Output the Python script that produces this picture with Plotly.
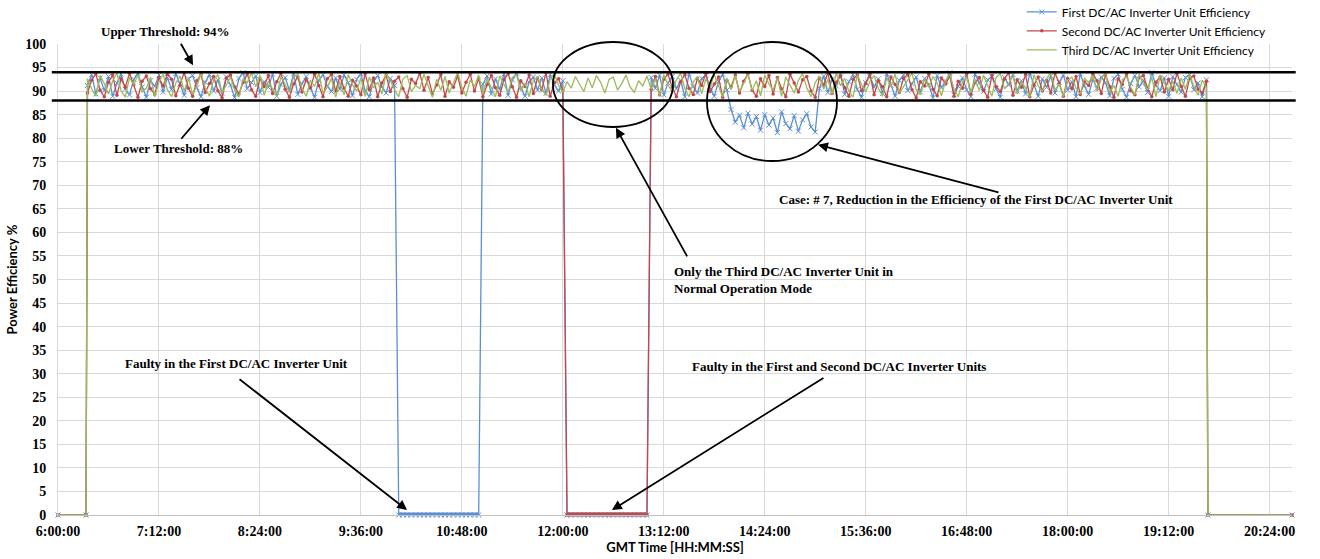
import plotly.graph_objects as go

# ---------------------------------------------------------------------------
# Sampling grid: one reading every 3 minutes from 6:21 to 19:39 (GMT).
# Each row below covers one hour (20 readings), the last row is partial.
# ---------------------------------------------------------------------------
SAMPLE_START = "6:21"
SAMPLE_STEP_MIN = 3

# Off-line periods (no irradiance) where all three inverters read 0 %
OFF_MORNING = ["6:00", "6:20"]
OFF_EVENING = ["19:40", "20:40"]

UPPER_THRESHOLD = 94
LOWER_THRESHOLD = 88

X_TICK_START = "6:00"
X_TICK_STEP_MIN = 72
X_TICK_COUNT = 13
Y_TICKS = list(range(0, 101, 5))

first_unit = [
    91.2, 93.5, 89.4, 92.8, 90.1, 93.1, 88.9, 91.7, 93.6, 90.4, 89.2, 92.5, 93.8, 90.9, 88.7, 92.2, 91.0, 93.4, 89.8, 92.9,
    90.3, 93.7, 91.5, 89.1, 92.6, 93.3, 90.7, 88.8, 91.9, 93.5, 90.0, 92.4, 89.5, 93.0, 91.3, 88.6, 92.7, 93.9, 90.5, 91.8,
    93.2, 89.7, 92.0, 90.8, 93.6, 88.9, 91.4, 92.9, 90.2, 93.8, 89.3, 91.6, 93.1, 90.6, 88.7, 92.3, 93.5, 91.1, 89.9, 92.8,
    90.4, 93.4, 91.8, 89.0, 92.5, 93.7, 90.1, 88.8, 92.1, 93.3, 90.9, 89.6, 92.7, 91.2, 0, 0, 0, 0, 0, 0,
    0, 0, 0, 0, 0, 0, 0, 0, 0, 0, 0, 0, 0, 0, 91.5, 93.2, 89.4, 92.6, 90.3, 93.6,
    89.1, 92.4, 93.8, 90.7, 88.9, 91.9, 93.0, 90.2, 92.8, 89.5, 93.5, 91.3, 90.0, 92.2, 0, 0, 0, 0, 0, 0,
    0, 0, 0, 0, 0, 0, 0, 0, 0, 0, 0, 0, 0, 0, 92.9, 90.6, 93.4, 89.2, 91.7, 93.1,
    90.5, 92.3, 88.8, 93.7, 91.0, 89.6, 92.7, 93.3, 90.8, 88.9, 92.0, 93.6, 90.2, 86.1, 83.4, 84.9, 82.2, 85.3, 83.0, 84.6,
    81.7, 85.0, 82.8, 84.3, 81.2, 85.6, 83.1, 82.0, 84.8, 81.5, 83.9, 85.2, 82.4, 81.3, 90.6, 93.2, 89.7, 92.5, 91.1, 93.8,
    89.3, 92.0, 93.5, 90.4, 88.7, 91.8, 93.1, 90.9, 92.6, 89.5, 93.7, 91.2, 88.9, 92.3, 93.4, 90.1, 91.6, 93.0, 89.8, 92.7,
    91.4, 88.6, 93.3, 90.7, 92.1, 93.9, 89.2, 91.0, 92.8, 90.3, 88.8, 93.6, 91.7, 89.9, 92.4, 93.1, 90.5, 88.7, 92.9, 91.3,
    93.5, 90.0, 92.2, 89.4, 93.8, 91.5, 88.9, 92.6, 90.8, 93.2, 89.6, 91.9, 93.4, 90.2, 92.0, 88.8, 93.7, 91.1, 89.3, 92.5,
    90.6, 93.0, 91.8, 89.0, 92.7, 93.6, 90.4, 88.7, 91.6, 93.3, 90.9, 92.3, 89.7, 93.9, 91.2, 90.1, 92.8, 88.9, 93.1, 91.4,
    89.8, 92.9, 93.5, 90.3, 91.7, 88.8, 92.4,
]

second_unit = [
    89.6, 92.3, 93.7, 90.2, 88.8, 91.9, 93.4, 89.1, 92.6, 90.8, 93.8, 91.4, 88.7, 92.1, 93.2, 90.5, 89.3, 92.9, 91.1, 93.6,
    92.5, 89.0, 91.3, 93.9, 90.6, 88.9, 92.2, 93.5, 89.7, 91.6, 93.1, 90.1, 88.6, 92.8, 93.4, 90.9, 89.4, 91.8, 93.7, 90.3,
    88.9, 92.7, 91.0, 93.3, 89.5, 92.0, 93.8, 90.4, 88.7, 91.5, 93.0, 89.8, 92.4, 90.7, 93.6, 91.2, 88.8, 92.6, 93.5, 90.0,
    93.1, 90.6, 88.9, 92.3, 91.1, 89.2, 93.7, 90.3, 92.8, 88.8, 91.7, 93.4, 89.9, 92.1, 93.0, 90.5, 88.7, 92.5, 91.6, 93.8,
    90.2, 92.9, 89.4, 91.3, 93.5, 88.9, 92.0, 90.8, 93.2, 89.6, 91.9, 93.6, 90.0, 92.7, 88.8, 91.4, 93.3, 90.7, 89.1, 92.4,
    93.7, 90.9, 88.7, 92.2, 91.0, 93.4, 89.5, 92.8, 90.3, 93.9, 88.9, 91.8, 92.6, 90.1, 0, 0, 0, 0, 0, 0,
    0, 0, 0, 0, 0, 0, 0, 0, 0, 0, 0, 0, 0, 0, 90.4, 93.1, 89.2, 92.5, 93.6, 90.8,
    88.8, 92.0, 93.5, 90.6, 89.3, 92.7, 91.2, 93.8, 89.9, 91.5, 93.0, 88.7, 92.3, 90.9, 93.4, 89.6, 92.1, 93.7, 90.2, 88.9,
    92.6, 91.0, 93.3, 89.4, 92.9, 90.5, 88.8, 93.6, 91.7, 89.8, 92.4, 93.1, 90.0, 88.7, 92.8, 91.3, 93.9, 89.5, 91.9, 93.2,
    90.7, 88.9, 92.5, 93.4, 90.1, 91.6, 93.8, 89.2, 92.2, 90.9, 88.8, 93.0, 91.4, 89.7, 92.7, 93.5, 90.3, 88.6, 92.0, 91.1,
    93.6, 90.4, 89.0, 92.8, 91.5, 93.2, 88.9, 92.1, 90.6, 93.7, 89.4, 91.8, 92.9, 90.2, 88.7, 93.3, 91.0, 89.9, 92.6, 93.9,
    89.1, 92.4, 90.8, 93.5, 88.8, 91.3, 93.0, 90.0, 92.3, 89.6, 93.8, 91.7, 88.9, 92.7, 90.5, 93.1, 89.3, 92.0, 91.2, 93.6,
    92.2, 89.5, 93.4, 90.9, 88.7, 92.6, 91.4, 93.7, 90.1, 89.2, 92.9, 93.3, 90.6, 88.8, 91.9, 93.0, 89.8, 92.5, 90.3, 93.8,
    91.0, 88.9, 92.7, 93.2, 90.4, 89.6, 92.1,
]

third_unit = [
    92.7, 90.5, 88.9, 93.3, 91.6, 89.4, 92.2, 93.8, 90.1, 88.7, 92.9, 91.3, 93.5, 89.8, 90.6, 93.0, 88.8, 91.9, 93.6, 90.3,
    88.8, 91.7, 93.2, 90.0, 92.8, 89.3, 91.1, 93.7, 90.7, 88.9, 92.4, 93.5, 89.6, 91.4, 93.0, 90.2, 88.7, 92.6, 91.8, 93.9,
    90.9, 93.4, 89.1, 92.1, 90.4, 88.8, 93.1, 91.5, 89.7, 92.9, 93.6, 90.6, 88.9, 92.3, 91.0, 93.8, 89.5, 90.8, 92.7, 88.7,
    92.0, 89.2, 93.5, 91.3, 90.0, 92.8, 88.9, 93.0, 90.7, 91.9, 89.4, 93.7, 92.2, 90.3, 88.8, 92.6, 93.3, 89.9, 91.2, 90.5,
    93.6, 91.1, 88.7, 92.5, 90.2, 93.1, 89.6, 91.8, 93.9, 90.8, 88.9, 92.4, 91.0, 93.4, 89.3, 92.7, 90.6, 88.8, 93.2, 91.5,
    89.7, 92.9, 93.5, 90.1, 91.7, 88.8, 92.3, 93.0, 90.4, 89.1, 92.6, 93.7, 91.2, 89.8, 92.0, 90.6, 93.1, 91.4, 89.9, 92.8,
    90.7, 93.3, 91.8, 89.6, 92.5, 93.0, 90.2, 91.6, 93.4, 90.9, 89.7, 92.2, 91.1, 93.2, 90.4, 92.7, 88.9, 93.5, 91.3, 89.8,
    92.4, 93.8, 90.5, 88.8, 91.9, 93.1, 89.4, 92.6, 90.8, 93.5, 91.0, 88.7, 92.8, 90.3, 93.3, 89.9, 91.6, 93.6, 90.1, 92.2,
    89.0, 93.4, 91.5, 90.2, 92.9, 88.9, 93.0, 91.2, 89.6, 92.3, 93.7, 90.7, 88.8, 91.8, 93.2, 90.4, 92.5, 89.3, 93.9, 91.1,
    92.7, 90.0, 88.7, 93.5, 91.4, 89.8, 92.1, 93.3, 90.6, 88.9, 92.8, 91.0, 93.6, 89.5, 90.9, 92.4, 93.8, 90.3, 89.2, 92.6,
    90.8, 93.1, 91.7, 89.0, 92.2, 93.6, 90.4, 88.8, 91.9, 93.0, 89.7, 92.5, 90.1, 93.4, 91.3, 88.9, 92.9, 93.7, 90.5, 91.6,
    93.2, 89.4, 92.0, 90.7, 88.7, 93.5, 91.1, 89.9, 92.7, 93.8, 90.2, 91.5, 88.8, 92.3, 93.0, 90.6, 89.3, 92.8, 91.8, 93.3,
    90.0, 92.6, 93.9, 89.6, 91.2, 88.9, 92.4, 93.1, 90.8, 89.2, 93.6, 91.4, 90.3, 92.9, 88.8, 93.4, 91.7, 90.1, 92.1, 89.5,
    92.8, 90.4, 93.5, 91.0, 89.1, 92.3, 90.7,
]

SERIES = [
    ("First DC/AC Inverter Unit Efficiency", first_unit, "#5b8fd3",
     dict(symbol="x-thin", size=5, line=dict(width=1, color="#5b8fd3"))),
    ("Second DC/AC Inverter Unit Efficiency", second_unit, "#c4484a",
     dict(symbol="circle", size=3.5)),
    ("Third DC/AC Inverter Unit Efficiency", third_unit, "#9bbb59", None),
]


def to_min(hhmm):
    h, m = hhmm.split(":")
    return int(h) * 60 + int(m)


def fmt_tick(minutes):
    return f"{minutes // 60}:{minutes % 60:02d}:00"


start = to_min(SAMPLE_START)
morning = [to_min(t) for t in OFF_MORNING]
evening = [to_min(t) for t in OFF_EVENING]

serif_bold = dict(family="Liberation Serif", size=14, color="black", weight="bold")
note_font = dict(family="Liberation Serif", size=13, color="black", weight="bold")
sans_bold = dict(family="Lato", size=13, color="black", weight="bold")

fig = go.Figure()
fault_traces = []

for name, values, color, marker in SERIES:
    times = [start + SAMPLE_STEP_MIN * i for i in range(len(values))]
    xs = morning + times + evening
    ys = [0] * len(morning) + values + [0] * len(evening)
    fig.add_trace(go.Scatter(
        x=xs, y=ys, name=name,
        mode="lines+markers" if marker else "lines",
        line=dict(color=color, width=1.3),
        marker=marker, cliponaxis=False,
        hoverinfo="skip",
    ))
    # readings of 0 % inside the operating day mark an inverter fault
    fault = [v if v == 0 else None for v in values]
    if any(v is not None for v in fault):
        fault_traces.append(go.Scatter(
            x=times, y=fault, mode="lines", showlegend=False,
            line=dict(color=color, width=5), connectgaps=False,
            cliponaxis=False, hoverinfo="skip",
        ))

for tr in fault_traces:
    fig.add_trace(tr)

tick_start = to_min(X_TICK_START)
x_ticks = [tick_start + X_TICK_STEP_MIN * i for i in range(X_TICK_COUNT)]

# threshold lines
shapes = []
for level in (UPPER_THRESHOLD, LOWER_THRESHOLD):
    shapes.append(dict(type="line", xref="paper", yref="y", x0=-0.005, x1=1.003,
                       y0=level, y1=level, line=dict(color="black", width=2.6)))

# highlight ellipses
shapes.append(dict(type="circle", xref="paper", yref="paper",
                   x0=0.4011, x1=0.4984, y0=0.8238, y1=1.0042,
                   line=dict(color="black", width=1.8)))
shapes.append(dict(type="circle", xref="paper", yref="paper",
                   x0=0.5259, x1=0.6313, y0=0.7516, y1=1.0042,
                   line=dict(color="black", width=1.8)))

annotations = [
    dict(x=437, y=1.0255, yref="paper", yanchor="middle", text="Upper Threshold: 94%",
         showarrow=False, font=note_font),
    dict(x=445.6, y=77.9, text="Lower Threshold: 88%", showarrow=False, font=note_font),
    dict(x=1014.6, y=66.9,
         text="Case: # 7, Reduction in the Efficiency of the First DC/AC Inverter Unit",
         showarrow=False, font=note_font),
    dict(x=797.9, y=49.8, xanchor="left", align="left",
         text="Only the Third DC/AC Inverter Unit in<br>Normal Operation Mode",
         showarrow=False, font=note_font),
    dict(x=487.3, y=32.1, text="Faulty in the First DC/AC Inverter Unit",
         showarrow=False, font=note_font),
    dict(x=916.9, y=31.6, text="Faulty in the First and Second DC/AC Inverter Units",
         showarrow=False, font=note_font),
]

arrows = [
    (456.3, 95.5, -13, -23),
    (468.4, 87.0, -30, 35),
    (757.9, 82.2, 72, 130),
    (902.0, 78.6, 182, 48),
    (608.9, 1.06, -169, -132),
    (755.0, 1.06, 213, -133),
]
for hx, hy, ax, ay in arrows:
    annotations.append(dict(x=hx, y=hy, ax=ax, ay=ay, text="", showarrow=True,
                            arrowhead=2, arrowsize=1.1, arrowwidth=1.8,
                            arrowcolor="black", standoff=0, startstandoff=0))

fig.update_layout(
    width=1320, height=559,
    margin=dict(l=58, r=28, t=44, b=44, autoexpand=False),
    paper_bgcolor="white", plot_bgcolor="white",
    shapes=shapes, annotations=annotations,
    showlegend=True,
    legend=dict(x=0.781, y=1.099, xanchor="left", yanchor="top",
                bgcolor="rgba(0,0,0,0)", itemwidth=30,
                font=dict(family="Lato", size=12, color="black")),
    xaxis=dict(
        range=[360, 1240], tickmode="array", tickvals=x_ticks,
        ticktext=[fmt_tick(t) for t in x_ticks],
        showgrid=True, gridcolor="#d9d9d9", gridwidth=1,
        showline=True, linecolor="#bfbfbf", linewidth=1,
        ticks="", tickfont=serif_bold, zeroline=False,
        ticklabelstandoff=3, automargin=False,
        title=dict(text="GMT Time [HH:MM:SS]", standoff=4, font=sans_bold),
    ),
    yaxis=dict(
        range=[0, 100], tickmode="array", tickvals=Y_TICKS,
        showgrid=True, gridcolor="#d9d9d9", gridwidth=1,
        showline=True, linecolor="#d9d9d9", linewidth=1,
        ticks="", tickfont=serif_bold, zeroline=False,
        ticklabelstandoff=8, automargin=False,
        title=dict(text="Power Efficiency %", standoff=4, font=sans_bold),
    ),
)

fig.write_html("out.html")
